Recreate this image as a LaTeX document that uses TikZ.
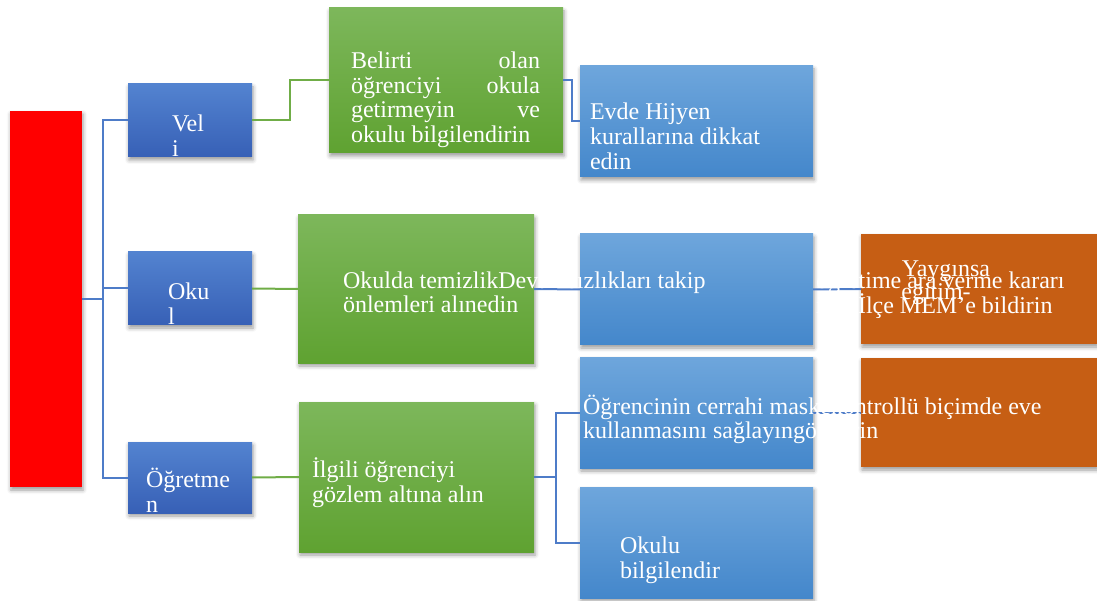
\documentclass[tikz,border=0pt]{standalone}
\usepackage{fontspec}
\setmainfont{Liberation Serif}
\usetikzlibrary{shadows.blur}
\definecolor{redbox}{HTML}{FF0000}
\definecolor{dbT}{HTML}{5383D0}
\definecolor{dbB}{HTML}{3760B6}
\definecolor{grT}{HTML}{7DB75B}
\definecolor{grB}{HTML}{5FA231}
\definecolor{lbT}{HTML}{6EA6DC}
\definecolor{lbB}{HTML}{4487CB}
\definecolor{orbox}{HTML}{C65E14}
\definecolor{bline}{HTML}{4E7CC8}
\definecolor{gline}{HTML}{70AD47}
\begin{document}
\begin{tikzpicture}[x=1pt,y=-1pt,
  box/.style={anchor=north west, inner sep=0pt, outer sep=0pt,
    blur shadow={shadow xshift=1pt, shadow yshift=-3pt, shadow blur radius=4pt, shadow opacity=40}},
  redb/.style={box, fill=redbox},
  darkb/.style={box, top color=dbT, bottom color=dbB},
  greenb/.style={box, top color=grT, bottom color=grB},
  lightb/.style={box, top color=lbT, bottom color=lbB},
  orangeb/.style={box, fill=orbox},
  bl/.style={draw=bline, line width=2pt},
  gl/.style={draw=gline, line width=2pt},
  txt/.style={anchor=base west, inner sep=0pt, outer sep=0pt, text=white, font=\fontsize{24}{25}\selectfont},
  ctxt/.style={txt, anchor=base}
]
\useasboundingbox (0,0) rectangle (1097,601);
% boxes
\node[redb, minimum width=72pt, minimum height=376pt] (red) at (10,111) {};
\node[darkb, minimum width=124pt, minimum height=73pt] (veli) at (128,84) {};
\node[darkb, minimum width=124pt, minimum height=73pt] (oku) at (128,252) {};
\node[darkb, minimum width=124pt, minimum height=71pt] (ogr) at (128,442) {};
\node[greenb, minimum width=234pt, minimum height=145pt] (bel) at (329,8) {};
\node[greenb, minimum width=236pt, minimum height=148pt] (okd) at (298,215) {};
\node[greenb, minimum width=235pt, minimum height=150pt] (ilg) at (299,402) {};
\node[lightb, minimum width=233pt, minimum height=111pt] (evd) at (580,66) {};
\node[lightb, minimum width=233pt, minimum height=111pt] (dev) at (580,234) {};
\node[lightb, minimum width=233pt, minimum height=111pt] (ogc) at (580,357) {};
\node[lightb, minimum width=233pt, minimum height=111pt] (okb) at (580,487) {};
\node[orangeb, minimum width=236pt, minimum height=110pt] (yay) at (861,234) {};
\node[orangeb, minimum width=236pt, minimum height=109pt] (kon) at (861,358) {};
% connectors
\begin{scope}[on background layer/.style={}]
\draw[bl] (red.east) -- ++(21,0);
\draw[bl] (veli.west) -- ++(-25,0) |- (ogr.west);
\draw[bl] (oku.west) -- ++(-25,0);
\draw[gl] (veli.east) -- ++(38,0) |- (bel.west);
\draw[gl] (oku.east) -- (okd.west);
\draw[gl] (ogr.east) -- (ilg.west);
\draw[bl] (bel.east) -- ++(9,0) |- (evd.west);
\draw[bl] (okd.east) -- (dev.west);
\draw[bl] (dev.east) -- (yay.west);
\draw[bl] (ilg.east) -- ++(22,0) |- (ogc.west);
\draw[bl] (ilg.east) -- ++(22,0) |- (okb.west);
\draw[bl] (ogc.east) -- (kon.west);
\end{scope}
% texts
\node[txt] (t1) at (172,132) {Vel};
\node[txt] (t2) at (172,157) {i};
\node[txt] (t3) at (168,300) {Oku};
\node[txt] (t4) at (168,325) {l};
\node[txt] (t5) at (146,487) {Öğretme};
\node[txt] (t6) at (146,512) {n};
\node[txt] (t7) at (351,69) {\makebox[189pt][s]{Belirti olan}};
\node[txt] (t8) at (351,93.5) {\makebox[189pt][s]{öğrenciyi okula}};
\node[txt] (t9) at (351,118) {\makebox[189pt][s]{getirmeyin ve}};
\node[txt] (t10) at (351,142.5) {okulu bilgilendirin};
\node[txt] (t11) at (590,120) {Evde Hijyen};
\node[txt] (t12) at (590,145) {kurallarına dikkat};
\node[txt] (t13) at (590,170) {edin};
\node[txt] (t14) at (343,289) {Okulda temizlikDevamsızlıkları takip};
\node[txt] (t15) at (343,313) {önlemleri alınedin};
\node[ctxt] (t16) at (946,277) {Yaygınsa};
\node[ctxt] (t17) at (936,300) {eğitim-};
\node[txt] (t18) at (816,289) {öğretime ara verme kararı};
\node[txt] (t19) at (816,314) {için İlçe MEM'e bildirin};
\node[txt] (t20) at (583,414) {Öğrencinin cerrahi maskekontrollü biçimde eve};
\node[txt] (t21) at (583,438) {kullanmasını sağlayıngönderin};
\node[txt] (t22) at (312,477) {İlgili öğrenciyi};
\node[txt] (t23) at (312,502) {gözlem altına alın};
\node[txt] (t24) at (620,553) {Okulu};
\node[txt] (t25) at (620,578) {bilgilendir};
\end{tikzpicture}
\end{document}
